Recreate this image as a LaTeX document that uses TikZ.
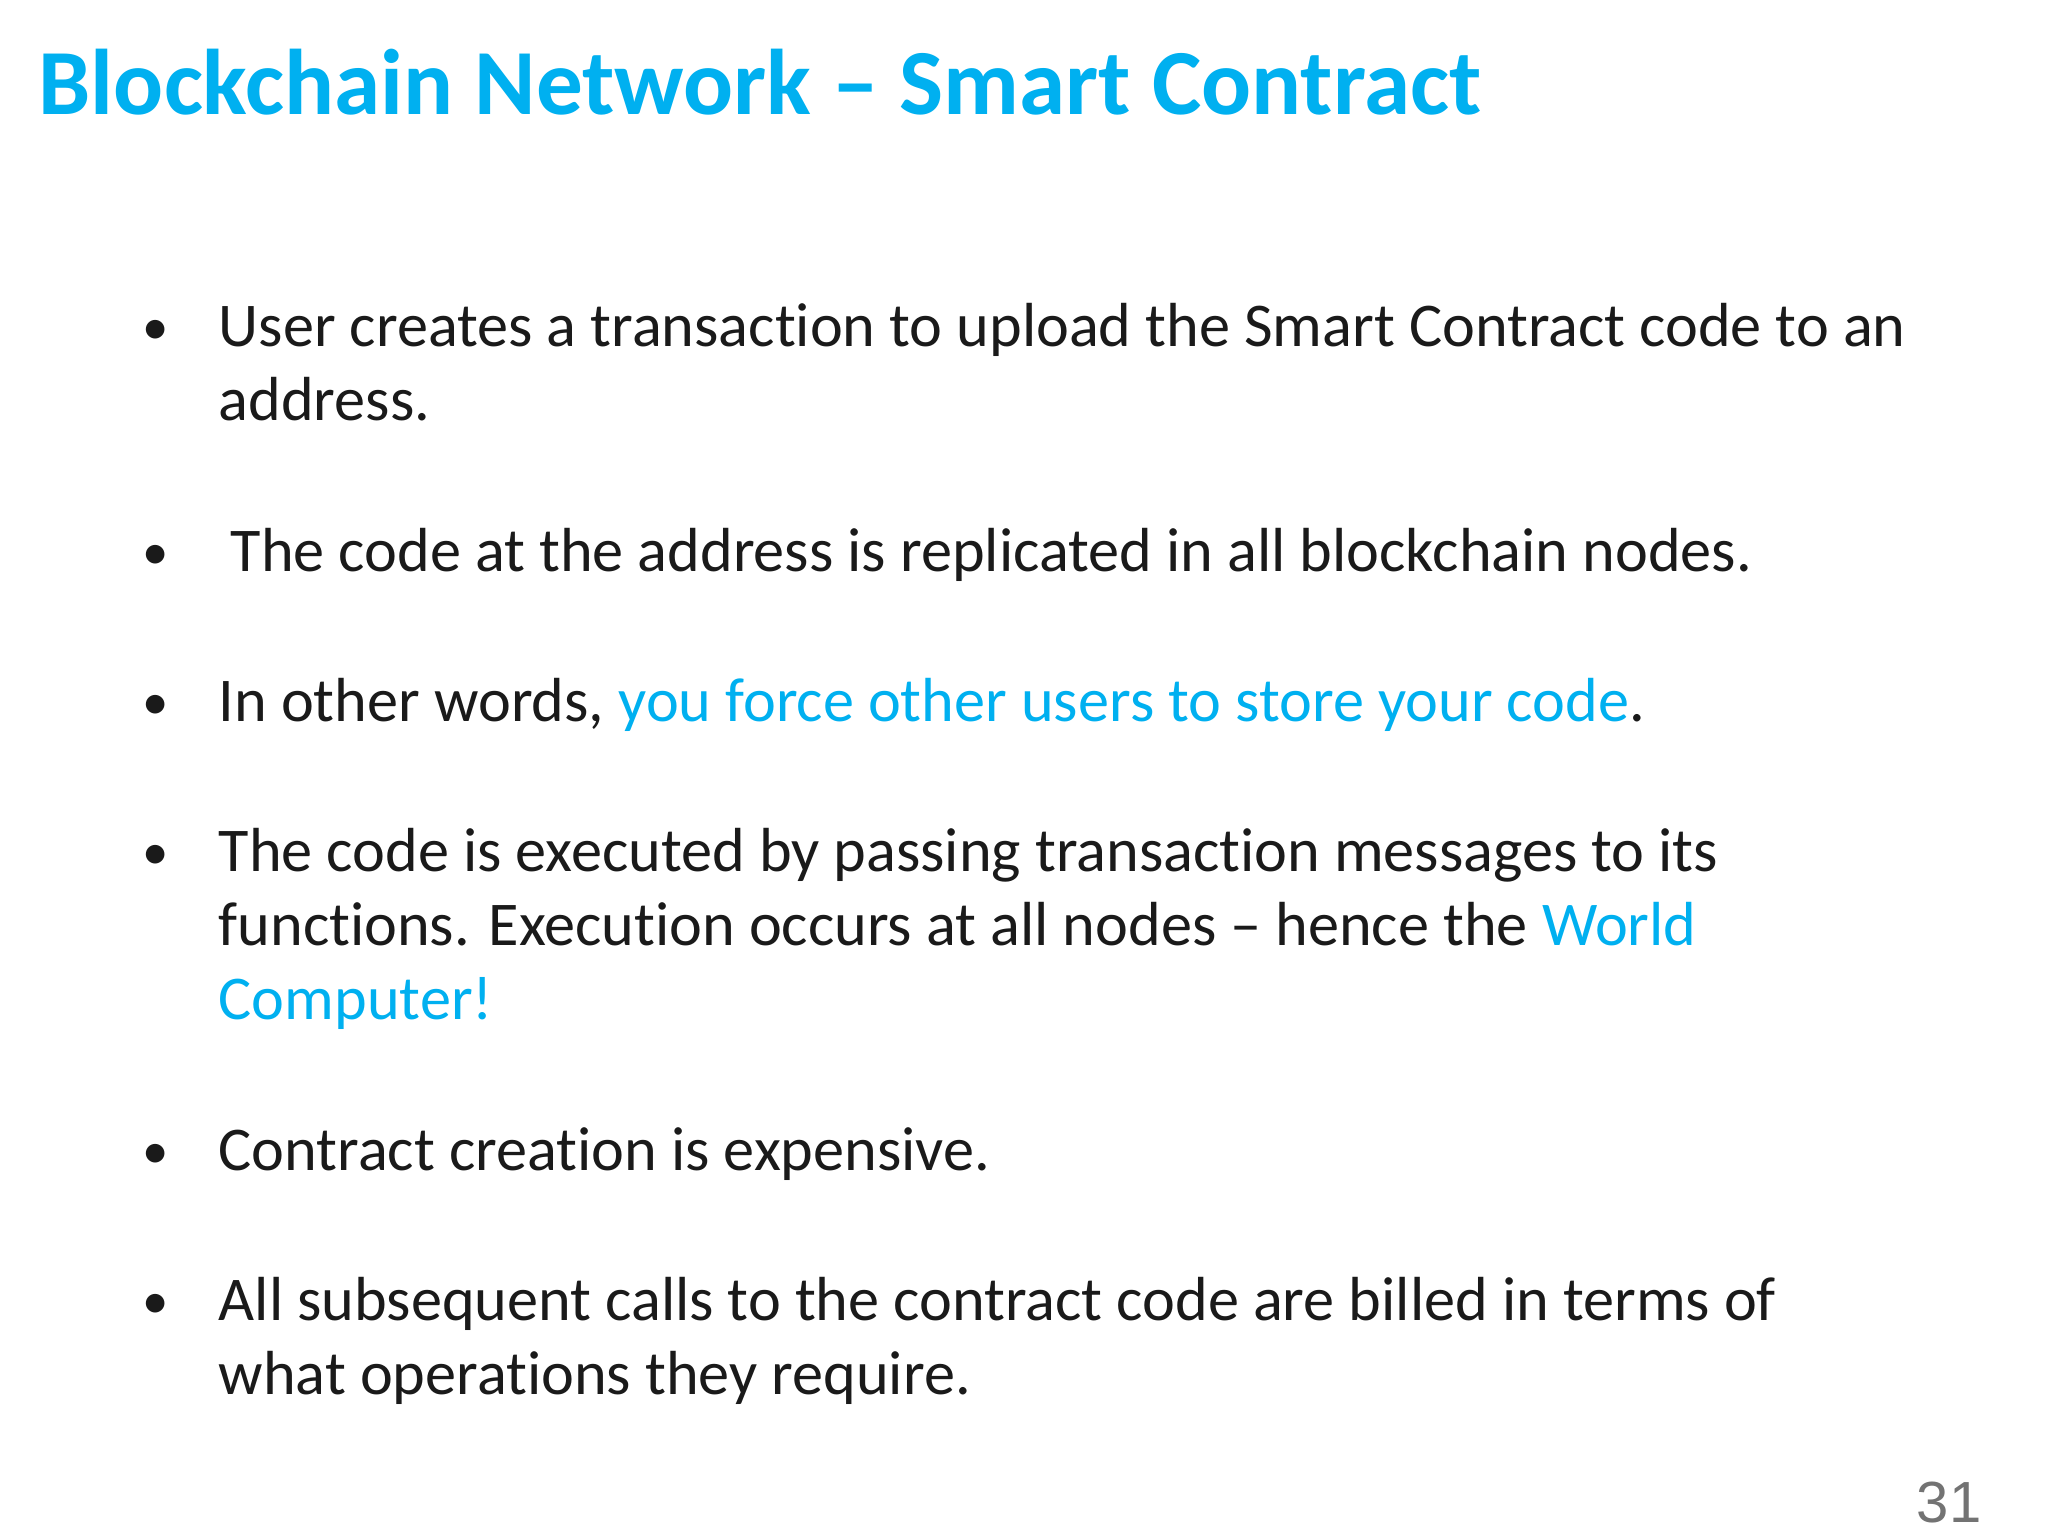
\documentclass[tikz,border=0pt]{standalone}
\usepackage{fontspec}
\setmainfont[Ligatures={NoCommon}]{Carlito}
\newfontfamily\numfont{Liberation Sans}
\definecolor{accent}{HTML}{00B0F0}
\definecolor{bodytxt}{HTML}{1A1A1A}
\begin{document}
\begin{tikzpicture}[x=0.01cm,y=-0.01cm,
  ln/.style={anchor=base west,inner sep=0pt,font=\fontsize{17.7}{20}\selectfont,text=bodytxt},
  bul/.style={anchor=base,inner sep=0pt,font=\fontsize{15}{20}\selectfont,text=bodytxt}]
\useasboundingbox[fill=white] (0,0) rectangle (2048,1536);
\node[anchor=base west,inner sep=0pt,font=\fontsize{26.5}{30}\selectfont\bfseries,text=accent] (title) at (38,114) {Blockchain Network – Smart Contract};
\foreach \y/\n in {344/b1,569/b2,719/b3,869/b4,1168/b5,1318/b6}{
  \node[bul] (\n) at (156,\y) {•};}
\node[ln] (l1) at (218,346) {User creates a transaction to upload the Smart Contract code to an};
\node[ln] (l2) at (218,420) {address.};
\node[ln] (l3) at (230,571) {The code at the address is replicated in all blockchain nodes.};
\node[ln] (l4) at (218,721) {In other words, \textcolor{accent}{you force other users to store your code}.};
\node[ln] (l5) at (218,871) {The code is executed by passing transaction messages to its};
\node[ln] (l6) at (218,945) {functions. Execution occurs at all nodes – hence the \textcolor{accent}{World}};
\node[ln,text=accent] (l7) at (218,1019) {Computer!};
\node[ln] (l8) at (218,1170) {Contract creation is expensive.};
\node[ln] (l9) at (218,1320) {All subsequent calls to the contract code are billed in terms of};
\node[ln] (l10) at (218,1394) {what operations they require.};
\node[anchor=base east,inner sep=0pt,font=\numfont\fontsize{16.5}{20}\selectfont,text=black!55] (pg) at (1982,1522) {31};
\end{tikzpicture}
\end{document}
